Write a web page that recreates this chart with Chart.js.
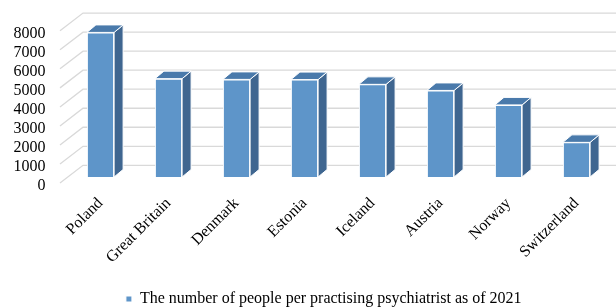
<!DOCTYPE html>
<html>
<head>
<meta charset="utf-8">
<script src="https://cdn.jsdelivr.net/npm/chart.js@4"></script>
<style>
    html, body { margin: 0; padding: 0; background: #fff; }
    .chart-container { width: 616px; height: 308px; position: relative; }
</style>
</head>
<body>
<div class="chart-container"><canvas id="chart"></canvas></div>
<script>
var countries = ['Poland', 'Great Britain', 'Denmark', 'Estonia', 'Iceland', 'Austria', 'Norway', 'Switzerland'];
var peoplePerPsychiatrist = [7600, 5170, 5130, 5120, 4870, 4550, 3790, 1820];
var yTicks = [0, 1000, 2000, 3000, 4000, 5000, 6000, 7000, 8000];
var seriesLabel = 'The number of people per practising psychiatrist as of 2021';

var serif = "'Liberation Serif', 'Times New Roman', serif";

// fake 3D: back wall + floor diagonals, and side/top faces on each bar
var pseudo3d = {
    id: 'pseudo3d',
    afterLayout: function (chart) {
        // legend sits a bit right of centre, like in the original
        chart.legend.left += 37;
    },
    beforeDatasetsDraw: function (chart) {
        var ctx = chart.ctx;
        var y = chart.scales.y;
        var area = chart.chartArea;
        var frontX = area.left - 6.5, backX = area.left + 16.5;
        ctx.save();
        ctx.strokeStyle = '#d9d9d9';
        ctx.lineWidth = 1.3;
        yTicks.forEach(function (v) {
            var py = y.getPixelForValue(v);
            ctx.beginPath();
            ctx.moveTo(frontX, py + 6);
            ctx.lineTo(backX, py - 11.7);
            ctx.lineTo(chart.width, py - 11.7);
            ctx.stroke();
        });
        ctx.restore();
    },
    afterDatasetsDraw: function (chart) {
        var ctx = chart.ctx;
        var dx = 9, dy = 7.5;
        var meta = chart.getDatasetMeta(0);
        ctx.save();
        ctx.strokeStyle = '#ffffff';
        ctx.lineWidth = 1;
        ctx.lineJoin = 'round';
        meta.data.forEach(function (bar) {
            var p = bar.getProps(['x', 'y', 'base', 'width'], true);
            var l = p.x - p.width / 2, r = p.x + p.width / 2;
            // side
            ctx.beginPath();
            ctx.moveTo(r, p.y);
            ctx.lineTo(r + dx, p.y - dy);
            ctx.lineTo(r + dx, p.base - dy);
            ctx.lineTo(r, p.base);
            ctx.closePath();
            ctx.fillStyle = '#3f6690';
            ctx.fill();
            ctx.stroke();
            // top
            ctx.beginPath();
            ctx.moveTo(l, p.y);
            ctx.lineTo(l + dx, p.y - dy);
            ctx.lineTo(r + dx, p.y - dy);
            ctx.lineTo(r, p.y);
            ctx.closePath();
            ctx.fillStyle = '#4a7aab';
            ctx.fill();
            ctx.stroke();
        });
        ctx.restore();
    }
};

function createConfig() {
    return {
        type: 'bar',
        data: {
            labels: countries,
            datasets: [{
                label: seriesLabel,
                data: peoplePerPsychiatrist,
                backgroundColor: '#5e95c9',
                borderColor: '#ffffff',
                borderWidth: 1,
                categoryPercentage: 1,
                barPercentage: 0.4
            }]
        },
        options: {
            maintainAspectRatio: false,
            responsive: true,
            animation: false,
            layout: {
                padding: { left: 0, right: 5.5, top: 24.8, bottom: -9 }
            },
            plugins: {
                legend: {
                    position: 'bottom',
                    labels: {
                        color: '#000',
                        boxWidth: 6,
                        boxHeight: 6,
                        padding: 3,
                        font: { family: serif, size: 16 }
                    }
                },
                tooltip: { enabled: false }
            },
            scales: {
                x: {
                    afterFit: function (scale) { scale.height = 111; },
                    grid: { display: false },
                    border: { display: false },
                    ticks: {
                        color: '#000',
                        maxRotation: 45,
                        minRotation: 45,
                        autoSkip: false,
                        padding: 9,
                        font: { family: serif, size: 16 }
                    }
                },
                y: {
                    min: 0,
                    max: 8000,
                    afterFit: function (scale) {
                        scale.width = 66.5;
                        scale.paddingTop = 0;
                        scale.paddingBottom = 0;
                    },
                    afterBuildTicks: function (scale) {
                        scale.ticks = yTicks.map(function (v) { return { value: v }; });
                    },
                    grid: { display: false },
                    border: { display: false },
                    ticks: {
                        color: '#000',
                        autoSkip: false,
                        padding: 13,
                        labelOffset: 8.5,
                        font: { family: serif, size: 16 },
                        callback: function (v) { return String(v); }
                    }
                }
            }
        },
        plugins: [pseudo3d]
    };
}

window.onload = function () {
    var ctx = document.getElementById('chart').getContext('2d');
    new Chart(ctx, createConfig());
};
</script>
</body>
</html>
